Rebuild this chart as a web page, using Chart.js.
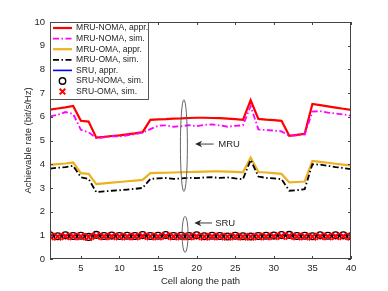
<!DOCTYPE html>
<html>
<head>
<meta charset="utf-8">
<script src="https://cdn.jsdelivr.net/npm/chart.js@4.4.1/dist/chart.umd.min.js"></script>
<style>
  html,body{margin:0;padding:0;background:#fff;}
  #wrap{width:388px;height:291px;}
</style>
</head>
<body>
<div id="wrap"><canvas id="rate" width="388" height="291"></canvas></div>
<script>
// --------- DATA ----------
const cells = [1,2,3,4,5,6,7,8,9,10,11,12,13,14,15,16,17,18,19,20,21,22,23,24,25,26,27,28,29,30,31,32,33,34,35,36,37,38,39,40];

const mruNomaAppr = [6.30,6.35,6.40,6.46,5.83,5.80,5.12,5.15,5.19,5.22,5.26,5.30,5.35,5.87,5.89,5.90,5.92,5.93,5.95,5.96,5.96,5.95,5.94,5.92,5.90,5.87,6.70,5.91,5.88,5.86,5.83,5.20,5.24,5.28,6.54,6.49,6.44,6.39,6.34,6.29];
const mruNomaSim  = [6.02,6.08,6.20,6.12,5.45,5.35,5.10,5.13,5.18,5.17,5.22,5.26,5.33,5.48,5.62,5.64,5.58,5.60,5.65,5.60,5.66,5.68,5.64,5.58,5.62,5.64,6.45,5.47,5.44,5.42,5.38,5.20,5.22,5.25,6.22,6.24,6.18,6.14,6.10,6.05];
const mruOmaAppr  = [3.97,4.00,4.03,4.07,3.62,3.59,3.16,3.19,3.22,3.25,3.28,3.31,3.34,3.62,3.63,3.64,3.65,3.66,3.67,3.68,3.69,3.70,3.70,3.69,3.68,3.66,4.28,3.67,3.65,3.62,3.59,3.23,3.25,3.27,4.14,4.10,4.06,4.02,3.98,3.95];
const mruOmaSim   = [3.81,3.85,3.88,3.93,3.45,3.38,2.82,2.85,2.88,2.90,2.93,2.96,3.00,3.38,3.40,3.42,3.38,3.40,3.43,3.41,3.44,3.45,3.42,3.44,3.40,3.37,4.18,3.48,3.42,3.40,3.37,2.88,2.90,2.95,4.00,3.98,3.93,3.88,3.84,3.79];
const sruAppr     = [0.99,0.99,0.99,0.99,0.99,0.99,0.99,0.99,0.99,0.99,0.99,0.99,0.99,0.99,0.99,0.99,0.99,0.99,0.99,0.99,0.99,0.99,0.99,0.99,0.99,0.99,0.99,0.99,0.99,0.99,0.99,0.99,0.99,0.99,0.99,0.99,0.99,0.99,0.99,0.99];
const sruNomaSim  = [1.00,0.96,1.00,0.97,0.98,0.93,1.02,0.97,0.99,0.97,0.98,0.97,1.01,0.97,0.98,1.01,0.97,0.98,0.97,1.00,0.96,0.98,0.97,0.95,0.98,0.96,0.95,0.97,0.98,0.99,1.01,1.02,0.97,0.98,0.96,1.00,0.98,1.00,1.00,0.96];
const sruOmaSim   = [0.95,0.94,0.96,0.95,0.95,0.93,0.97,0.95,0.96,0.95,0.95,0.95,0.97,0.95,0.95,0.97,0.95,0.95,0.95,0.96,0.94,0.95,0.95,0.94,0.95,0.94,0.94,0.95,0.95,0.96,0.97,0.97,0.95,0.95,0.94,0.96,0.95,0.96,0.96,0.94];

const seriesNames = ['MRU-NOMA, appr.','MRU-NOMA, sim.','MRU-OMA, appr.','MRU-OMA, sim.','SRU, appr.','SRU-NOMA, sim.','SRU-OMA, sim.'];
const xTickValues = [5,10,15,20,25,30,35,40];

// annotations, in data units
const mruNote = {cx:18.35, y0:2.85, y1:6.72, rx:3.5, tip:19.8, tail:22.2, y:4.85, text:'MRU', tx:22.8};
const sruNote = {cx:18.5,  y0:0.28, y1:1.80, rx:3.0, tip:19.7, tail:22.0, y:1.52, text:'SRU', tx:22.4};

// --------- HELPERS ----------
const FONT = '"Liberation Sans", Arial, Helvetica, sans-serif';
const INK = '#262626';
const pts = arr => cells.map((c,i)=>({x:c, y:arr[i]}));
const DASHDOT = [6,2.5,1.5,2.5];

// z: higher = drawn later (on top)
const styles = [
  {data:mruNomaAppr, color:'#ff0000', width:2.2, dash:[], z:1},
  {data:mruNomaSim,  color:'#ff00ff', width:1.8, dash:DASHDOT, z:2},
  {data:mruOmaAppr,  color:'#edb120', width:2.2, dash:[], z:3},
  {data:mruOmaSim,   color:'#000000', width:1.8, dash:DASHDOT, z:4},
  {data:sruAppr,     color:'#0000ff', width:1.6, dash:[], z:5},
  {data:sruNomaSim,  color:'#000000', width:1.4, marker:'circle', r:3.4, z:6},
  {data:sruOmaSim,   color:'#ff0000', width:2.0, marker:'crossRot', r:5, z:7},
];

const datasets = styles.map((s,i)=>({
  label: seriesNames[i],
  data: pts(s.data),
  borderColor: s.color,
  backgroundColor: s.color,
  borderWidth: s.width,
  borderDash: s.dash || [],
  showLine: !s.marker,
  pointRadius: s.marker ? s.r : 0,
  pointStyle: s.marker || 'circle',
  pointBorderColor: s.color,
  pointBackgroundColor: s.marker==='circle' ? 'rgba(0,0,0,0)' : s.color,
  pointBorderWidth: s.width,
  tension: 0,
  order: -s.z
}));

function ellipseNote(ctx, xs, ys, n){
  const cx = xs.getPixelForValue(n.cx);
  const ya = ys.getPixelForValue(n.y1), yb = ys.getPixelForValue(n.y0);
  ctx.save();
  ctx.strokeStyle = '#555'; ctx.lineWidth = 0.9;
  ctx.beginPath();
  ctx.ellipse(cx, (ya+yb)/2, n.rx, (yb-ya)/2, 0, 0, Math.PI*2);
  ctx.stroke();
  const tip = xs.getPixelForValue(n.tip), tail = xs.getPixelForValue(n.tail), y = ys.getPixelForValue(n.y);
  ctx.strokeStyle = INK; ctx.fillStyle = INK; ctx.lineWidth = 0.9;
  ctx.beginPath(); ctx.moveTo(tail, y); ctx.lineTo(tip+4, y); ctx.stroke();
  ctx.beginPath();
  ctx.moveTo(tip, y); ctx.lineTo(tip+7, y-3.2); ctx.lineTo(tip+5, y); ctx.lineTo(tip+7, y+3.2); ctx.closePath();
  ctx.fill();
  ctx.font = '9.5px ' + FONT; ctx.textBaseline = 'middle'; ctx.textAlign = 'left';
  ctx.fillText(n.text, xs.getPixelForValue(n.tx), y);
  ctx.restore();
}

const frame = {
  id:'frame',
  afterDraw(chart){
    const {ctx, chartArea:a, scales:{x:xs, y:ys}} = chart;
    ctx.save();
    // box + inward ticks
    ctx.strokeStyle = '#444'; ctx.lineWidth = 1;
    ctx.strokeRect(a.left+0.5, a.top+0.5, a.right-a.left-1, a.bottom-a.top-1);
    ctx.beginPath();
    xTickValues.forEach(v=>{
      const px = Math.round(xs.getPixelForValue(v))+0.5;
      ctx.moveTo(px, a.bottom); ctx.lineTo(px, a.bottom-3);
      ctx.moveTo(px, a.top); ctx.lineTo(px, a.top+3);
    });
    ys.ticks.forEach(t=>{
      const py = Math.round(ys.getPixelForValue(t.value))+0.5;
      ctx.moveTo(a.left, py); ctx.lineTo(a.left+3, py);
      ctx.moveTo(a.right, py); ctx.lineTo(a.right-3, py);
    });
    ctx.stroke();

    ellipseNote(ctx, xs, ys, mruNote);
    ellipseNote(ctx, xs, ys, sruNote);

    // legend
    const L = a.left, T = a.top, W = 98, H = 77;
    ctx.fillStyle = '#fff'; ctx.fillRect(L+0.5, T+0.5, W, H);
    ctx.strokeStyle = '#444'; ctx.lineWidth = 0.9; ctx.strokeRect(L+0.5, T+0.5, W, H);
    ctx.font = '8.6px ' + FONT; ctx.textBaseline = 'middle'; ctx.textAlign = 'left';
    styles.forEach((s,i)=>{
      const y = T + 6 + i*10.6;
      ctx.strokeStyle = s.color; ctx.lineWidth = s.width;
      if(s.marker){
        const mx = L + 12.5;
        ctx.setLineDash([]);
        ctx.beginPath();
        if(s.marker==='circle'){ ctx.arc(mx, y, 3.2, 0, Math.PI*2); }
        else { ctx.moveTo(mx-2.8,y-2.8); ctx.lineTo(mx+2.8,y+2.8); ctx.moveTo(mx+2.8,y-2.8); ctx.lineTo(mx-2.8,y+2.8); }
        ctx.stroke();
      } else {
        ctx.setLineDash(s.dash);
        ctx.beginPath(); ctx.moveTo(L+3, y); ctx.lineTo(L+22, y); ctx.stroke();
        ctx.setLineDash([]);
      }
      ctx.fillStyle = INK;
      ctx.fillText(seriesNames[i], L+26, y);
    });
    ctx.restore();
  }
};

// --------- CHART ----------
new Chart(document.getElementById('rate'), {
  type:'line',
  data:{datasets},
  options:{
    responsive:false,
    maintainAspectRatio:false,
    animation:false,
    layout:{padding:{left:0, top:22, right:37, bottom:0}},
    plugins:{legend:{display:false}, tooltip:{enabled:false}},
    scales:{
      x:{
        type:'linear', min:1, max:40,
        afterFit: s => { s.height = 32; },
        afterBuildTicks: s => { s.ticks = xTickValues.map(v=>({value:v})); },
        grid:{display:false, drawTicks:false}, border:{display:false},
        ticks:{color:INK, font:{family:FONT, size:9.5}, padding:4, maxRotation:0, autoSkip:false},
        title:{display:true, text:'Cell along the path', color:INK, font:{family:FONT, size:9.5}, padding:{top:0, bottom:4}}
      },
      y:{
        min:0, max:10,
        afterFit: s => { s.width = 50; },
        grid:{display:false, drawTicks:false}, border:{display:false},
        ticks:{stepSize:1, color:INK, font:{family:FONT, size:9.5}, padding:5},
        title:{display:true, text:'Achievable rate (bit/s/Hz)', color:INK, font:{family:FONT, size:9.5}, padding:{top:23, bottom:0}}
      }
    }
  },
  plugins:[frame]
});
</script>
</body>
</html>
